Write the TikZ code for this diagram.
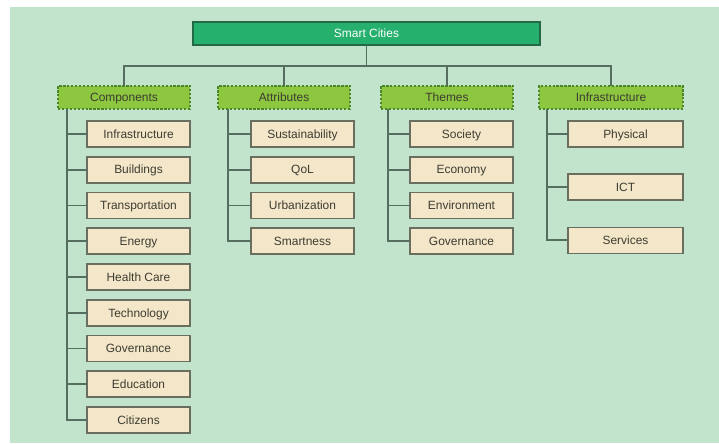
\documentclass[tikz,border=0pt]{standalone}
\usepackage{fontspec}
\setmainfont{Liberation Sans}
\usepackage{xcolor}
\usepackage{tikz}
\usetikzlibrary{positioning}

\definecolor{bgmint}{RGB}{194,228,205}
\definecolor{rootgreen}{RGB}{38,176,110}
\definecolor{rootedge}{RGB}{35,105,70}
\definecolor{catgreen}{RGB}{141,198,63}
\definecolor{catedge}{RGB}{75,135,40}
\definecolor{itembeige}{RGB}{244,230,200}
\definecolor{itemedge}{RGB}{105,110,95}
\definecolor{linkgray}{RGB}{85,110,95}
\definecolor{labelgray}{RGB}{60,60,50}

\begin{document}
\begin{tikzpicture}[
    font=\fontsize{8.5}{10}\selectfont,
    root/.style={rectangle, draw=rootedge, line width=0.8pt, fill=rootgreen, text=white, minimum width=8.675cm, minimum height=0.575cm, inner sep=0pt, outer sep=0pt, text height=6pt, text depth=0pt},
    category/.style={rectangle, draw=catedge, line width=1.2pt, dash pattern=on 1.6pt off 1.2pt, fill=catgreen, text=labelgray, minimum width=3.3cm, minimum height=0.575cm, inner sep=0pt, outer sep=0pt, text height=6pt, text depth=0pt},
    item/.style={rectangle, draw=itemedge, line width=1.2pt, fill=itembeige, text=labelgray, minimum width=2.575cm, minimum height=0.65cm, inner sep=0pt, outer sep=0pt, text height=6pt, text depth=0pt},
    link/.style={draw=linkgray, line width=1.3pt}
]

% Background
\useasboundingbox (0,0) rectangle (17.975,-11.075);
\fill[bgmint] (0.25,-0.175) rectangle (17.975,-11.075);

% Root
\node[root] (root) at (9.1625,-0.8375) {Smart Cities};

% Categories
\node[category] (comp) at (3.1,-2.4375) {Components};
\node[category] (attr) at (7.1,-2.4375) {Attributes};
\node[category] (themes) at (11.175,-2.4375) {Themes};
\node[category, minimum width=3.6cm] (infra) at (15.275,-2.4375) {Infrastructure};

% Components
\node[item, below right=0.3cm and 0.725cm of comp.south west] (c1) {Infrastructure};
\node[item, below=0.244cm of c1] (c2) {Buildings};
\node[item, below=0.244cm of c2] (c3) {Transportation};
\node[item, below=0.244cm of c3] (c4) {Energy};
\node[item, below=0.244cm of c4] (c5) {Health Care};
\node[item, below=0.244cm of c5] (c6) {Technology};
\node[item, below=0.244cm of c6] (c7) {Governance};
\node[item, below=0.244cm of c7] (c8) {Education};
\node[item, below=0.244cm of c8] (c9) {Citizens};

% Attributes
\node[item, below right=0.3cm and 0.825cm of attr.south west] (a1) {Sustainability};
\node[item, below=0.244cm of a1] (a2) {QoL};
\node[item, below=0.244cm of a2] (a3) {Urbanization};
\node[item, below=0.244cm of a3] (a4) {Smartness};

% Themes
\node[item, below right=0.3cm and 0.725cm of themes.south west] (t1) {Society};
\node[item, below=0.244cm of t1] (t2) {Economy};
\node[item, below=0.244cm of t2] (t3) {Environment};
\node[item, below=0.244cm of t3] (t4) {Governance};

% Infrastructure
\node[item, minimum width=2.875cm, below right=0.3cm and 0.725cm of infra.south west] (i1) {Physical};
\node[item, minimum width=2.875cm, below=0.68cm of i1] (i2) {ICT};
\node[item, minimum width=2.875cm, below=0.68cm of i2] (i3) {Services};

% Bus from root
\path (root.south) ++(0,-0.525) coordinate (bus);
\draw[link] (root.south) -- (bus);
\draw[link] (comp.north) |- (bus) -| (infra.north);
\draw[link] (attr.north) -- (attr.north |- bus);
\draw[link] (themes.north) -- (themes.north |- bus);

% Trunks
\path (comp.south west) ++(0.225,0) coordinate (ct);
\draw[link] (ct) |- (c9.west);
\draw[link] (ct |- c1.west) -- (c1.west);
\draw[link] (ct |- c2.west) -- (c2.west);
\draw[link] (ct |- c3.west) -- (c3.west);
\draw[link] (ct |- c4.west) -- (c4.west);
\draw[link] (ct |- c5.west) -- (c5.west);
\draw[link] (ct |- c6.west) -- (c6.west);
\draw[link] (ct |- c7.west) -- (c7.west);
\draw[link] (ct |- c8.west) -- (c8.west);

\path (attr.south west) ++(0.25,0) coordinate (at);
\draw[link] (at) |- (a4.west);
\draw[link] (at |- a1.west) -- (a1.west);
\draw[link] (at |- a2.west) -- (a2.west);
\draw[link] (at |- a3.west) -- (a3.west);

\path (themes.south west) ++(0.175,0) coordinate (tt);
\draw[link] (tt) |- (t4.west);
\draw[link] (tt |- t1.west) -- (t1.west);
\draw[link] (tt |- t2.west) -- (t2.west);
\draw[link] (tt |- t3.west) -- (t3.west);

\path (infra.south west) ++(0.2,0) coordinate (it);
\draw[link] (it) |- (i3.west);
\draw[link] (it |- i1.west) -- (i1.west);
\draw[link] (it |- i2.west) -- (i2.west);

\end{tikzpicture}
\end{document}
